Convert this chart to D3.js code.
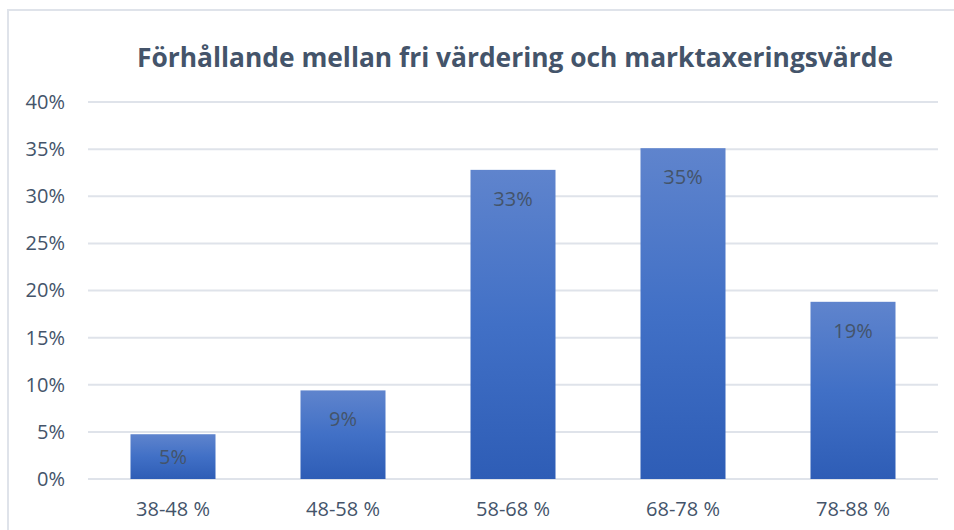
<!DOCTYPE html>
<html>
<head>
<meta charset="utf-8">
<script src="https://cdn.jsdelivr.net/npm/d3@7"></script>
<style>
  html, body { margin: 0; padding: 0; background: #fff; }
  svg { display: block; }
  text { font-family: "Open Sans", "Noto Sans", sans-serif; fill: #44546A; }
</style>
</head>
<body>
<div id="chart"></div>
<script>
// data
const categories = ['38-48 %', '48-58 %', '58-68 %', '68-78 %', '78-88 %'];
const shares = [4.75, 9.4, 32.8, 35.1, 18.8];
const shareLabels = ['5%', '9%', '33%', '35%', '19%'];
const yTicks = [0, 5, 10, 15, 20, 25, 30, 35, 40];
const title = 'Förhållande mellan fri värdering och marktaxeringsvärde';

const width = 954, height = 530;
const margin = { left: 88, top: 102, right: 16, bottom: 51 };
const contentWidth = width - margin.left - margin.right;
const contentHeight = height - margin.top - margin.bottom;

const svg = d3.select('#chart')
  .append('svg')
  .attr('width', width)
  .attr('height', height);

// chart area border (only top and left visible in the crop)
svg.append('path')
  .attr('d', 'M8,530 V10 H954')
  .attr('fill', 'none')
  .attr('stroke', '#dfe3ea')
  .attr('stroke-width', 2);

const defs = svg.append('defs');
const grad = defs.append('linearGradient')
  .attr('id', 'barGrad')
  .attr('x1', 0).attr('y1', 0).attr('x2', 0).attr('y2', 1);
grad.append('stop').attr('offset', '0%').attr('stop-color', '#5f84cd');
grad.append('stop').attr('offset', '50%').attr('stop-color', '#4170c6');
grad.append('stop').attr('offset', '100%').attr('stop-color', '#2e5db6');

svg.append('text')
  .attr('x', 515)
  .attr('y', 67)
  .attr('text-anchor', 'middle')
  .attr('font-size', 26)
  .attr('font-weight', 700)
  .attr('textLength', 756)
  .attr('lengthAdjust', 'spacingAndGlyphs')
  .text(title);

const g = svg.append('g')
  .attr('transform', 'translate(' + margin.left + ', ' + margin.top + ')');

const x = d3.scaleBand()
  .domain(categories)
  .range([0, contentWidth])
  .paddingInner(0.5)
  .paddingOuter(0.25);

const y = d3.scaleLinear()
  .domain([0, 40])
  .range([contentHeight, 0]);

// gridlines
g.append('g')
  .selectAll('line')
  .data(yTicks)
  .enter()
  .append('line')
  .attr('x1', 0)
  .attr('x2', contentWidth)
  .attr('y1', d => y(d))
  .attr('y2', d => y(d))
  .attr('stroke', '#dfe3ea')
  .attr('stroke-width', 2);

const yAxisCall = d3.axisLeft(y)
  .tickValues(yTicks)
  .tickSize(0)
  .tickPadding(23)
  .tickFormat(d => d + '%');
const yAxisGroup = g.append('g').call(yAxisCall);
yAxisGroup.select('.domain').remove();
yAxisGroup.selectAll('text')
  .attr('font-size', 20)
  .attr('fill', '#44546A')
  .style('font-family', '"Open Sans", sans-serif');

const xAxisCall = d3.axisBottom(x).tickSize(0).tickPadding(23);
const xAxisGroup = g.append('g')
  .attr('transform', 'translate(0, ' + contentHeight + ')')
  .call(xAxisCall);
xAxisGroup.select('.domain').remove();
xAxisGroup.selectAll('text')
  .attr('font-size', 20)
  .attr('fill', '#44546A')
  .style('font-family', '"Open Sans", sans-serif');

const data = categories.map((c, i) => ({ cat: c, value: shares[i], label: shareLabels[i] }));

g.selectAll('rect.bar')
  .data(data)
  .enter()
  .append('rect')
  .attr('class', 'bar')
  .attr('x', d => x(d.cat))
  .attr('y', d => y(d.value))
  .attr('width', x.bandwidth())
  .attr('height', d => contentHeight - y(d.value))
  .attr('fill', 'url(#barGrad)');

g.selectAll('text.val')
  .data(data)
  .enter()
  .append('text')
  .attr('class', 'val')
  .attr('x', d => x(d.cat) + x.bandwidth() / 2)
  .attr('y', d => Math.min(y(d.value) + 29, (y(d.value) + contentHeight) / 2))
  .attr('dy', '0.35em')
  .attr('text-anchor', 'middle')
  .attr('font-size', 20)
  .attr('fill', '#404c5e')
  .text(d => d.label);
</script>
</body>
</html>
